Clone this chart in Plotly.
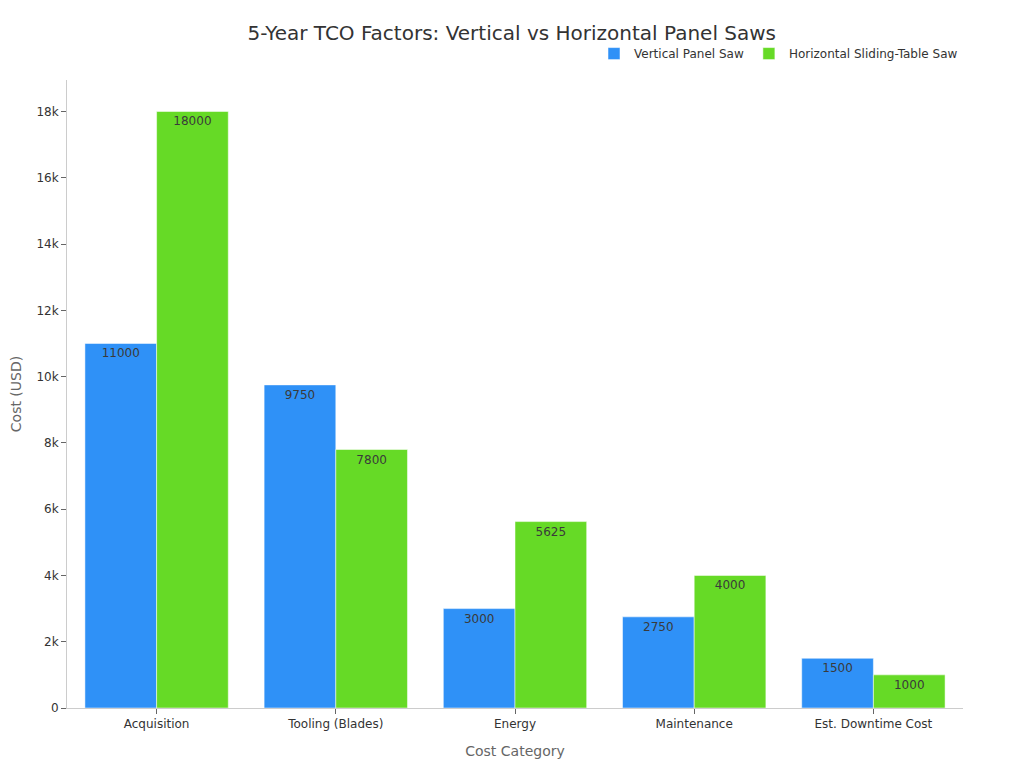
import plotly.graph_objects as go

categories = ["Acquisition", "Tooling (Blades)", "Energy", "Maintenance", "Est. Downtime Cost"]
vertical = [11000, 9750, 3000, 2750, 1500]
horizontal = [18000, 7800, 5625, 4000, 1000]
tick_vals = [0, 2000, 4000, 6000, 8000, 10000, 12000, 14000, 16000, 18000]
tick_text = ["0", "2k", "4k", "6k", "8k", "10k", "12k", "14k", "16k", "18k"]

FONT = "DejaVu Sans"

fig = go.Figure()
fig.add_trace(go.Bar(
    x=categories, y=vertical, name="Vertical Panel Saw",
    marker=dict(color="#2F91F7", line=dict(color="rgba(255,255,255,0.5)", width=1)),
    text=vertical, textposition="inside", insidetextanchor="end",
    textfont=dict(color="#3a3a3a", size=12, family=FONT),
))
fig.add_trace(go.Bar(
    x=categories, y=horizontal, name="Horizontal Sliding-Table Saw",
    marker=dict(color="#66DA26", line=dict(color="rgba(255,255,255,0.5)", width=1)),
    text=horizontal, textposition="inside", insidetextanchor="end",
    textfont=dict(color="#3a3a3a", size=12, family=FONT),
))

# the page puts the figure 8px in from the corner, so margins are offset to match
fig.update_layout(
    width=1024, height=768,
    barmode="group", bargap=0.2, bargroupgap=0,
    plot_bgcolor="white", paper_bgcolor="white",
    font=dict(family=FONT, color="#333333", size=12),
    title=dict(text="5-Year TCO Factors: Vertical vs Horizontal Panel Saws",
               x=0.492, xanchor="center", y=0.967, yanchor="middle",
               font=dict(size=20, color="#333333")),
    legend=dict(orientation="h", x=1, xanchor="right", y=1.019, yanchor="bottom",
                font=dict(size=12), itemwidth=30),
    margin=dict(l=59, r=69, t=72, b=68),
    uniformtext=dict(mode="show", minsize=12),
)
fig.update_xaxes(
    title=dict(text="Cost Category", font=dict(size=14, color="#666666"), standoff=15),
    showline=True, linecolor="#cccccc", linewidth=1,
    ticks="outside", tickcolor="#666666", ticklen=5,
    showgrid=False,
)
fig.update_yaxes(
    title=dict(text="Cost (USD)", font=dict(size=14, color="#666666"), standoff=15),
    automargin=False,
    range=[0, 18950], tickvals=tick_vals, ticktext=tick_text,
    showline=True, linecolor="#cccccc", linewidth=1,
    ticks="outside", tickcolor="#666666", ticklen=5,
    showgrid=False, zeroline=False,
)

fig.write_html("out.html")
